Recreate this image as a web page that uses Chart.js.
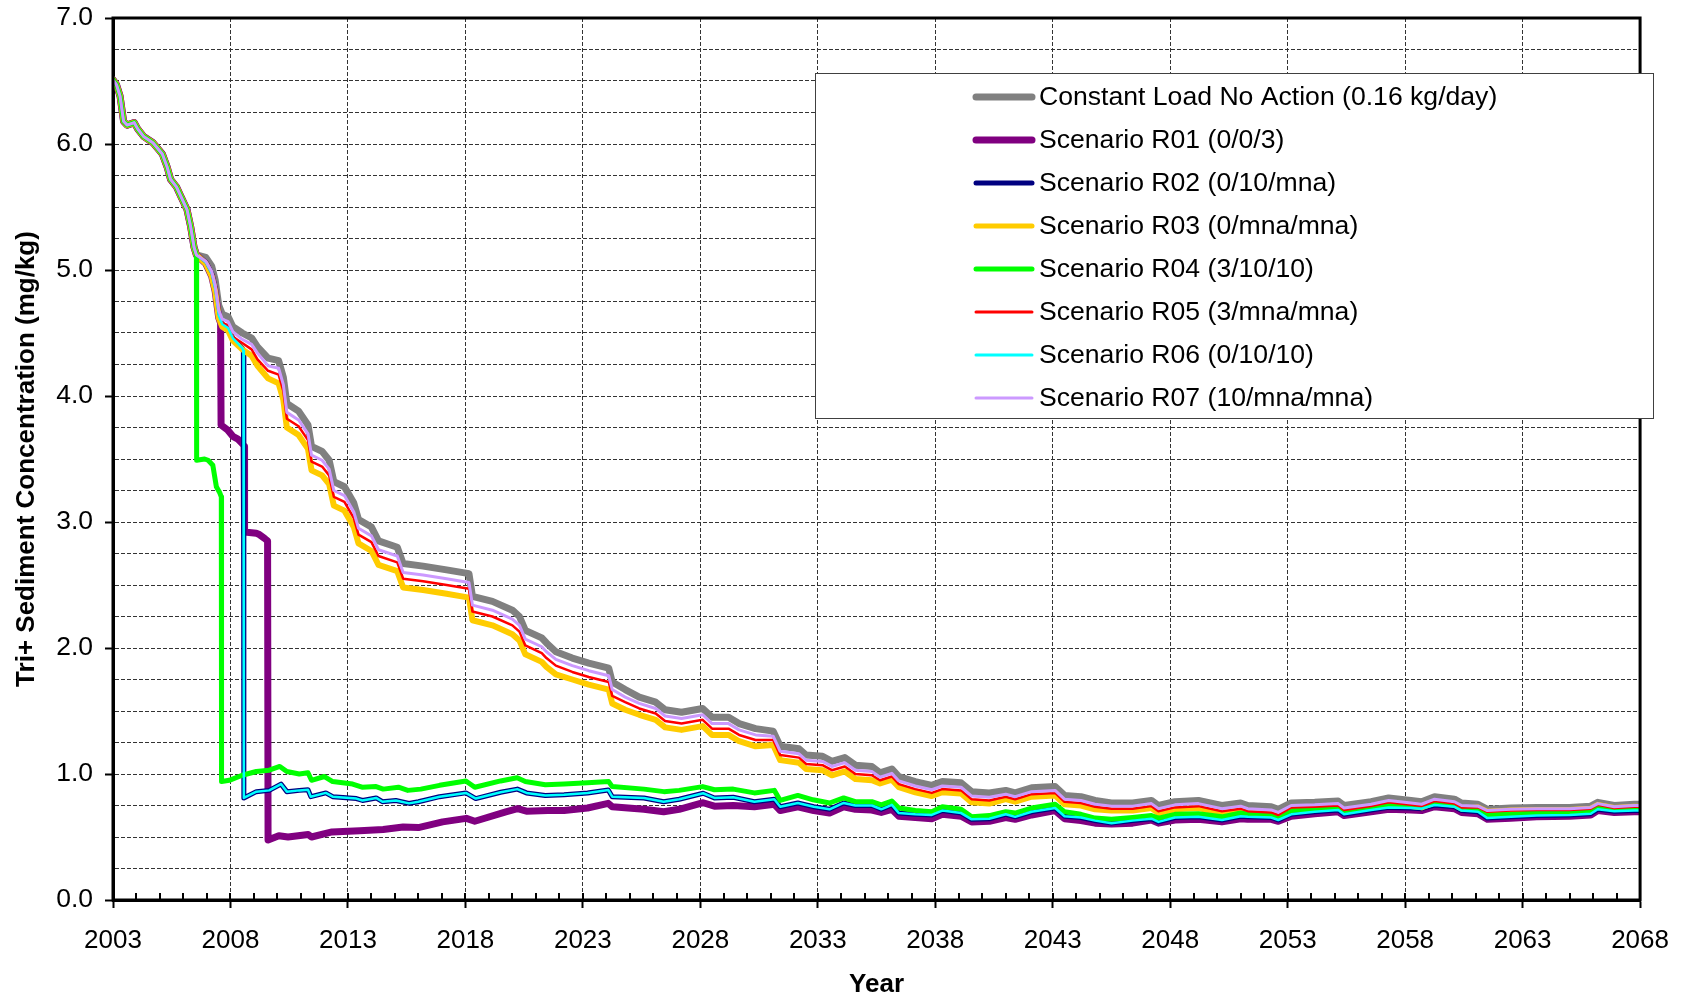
<!DOCTYPE html>
<html>
<head>
<meta charset="utf-8">
<title>Tri+ Sediment Concentration</title>
<script src="https://cdn.jsdelivr.net/npm/chart.js@4.4.1/dist/chart.umd.min.js"></script>
<style>
  html, body { margin: 0; padding: 0; background: #fff; }
  #wrap { width: 1686px; height: 1000px; }
</style>
</head>
<body>
<div id="wrap"><canvas id="chart" width="1686" height="1000"></canvas></div>
<script>
// values (year, mg/kg)
const yearTicks = [2003, 2008, 2013, 2018, 2023, 2028, 2033, 2038, 2043, 2048, 2053, 2058, 2063, 2068];

// all scenarios share the same curve until mid 2006
const yearsEarly = [2003.00, 2003.15, 2003.30, 2003.45, 2003.60, 2003.90, 2004.05, 2004.30, 2004.70, 2005.10,
  2005.30, 2005.45, 2005.70, 2005.90, 2006.15, 2006.30, 2006.45, 2006.55];
const concEarly = [6.51, 6.47, 6.38, 6.18, 6.15, 6.17, 6.12, 6.06, 6.01, 5.92,
  5.82, 5.72, 5.66, 5.58, 5.48, 5.35, 5.18, 5.12];

// no action / mna group
const yearsUpper = [2006.95, 2007.20, 2007.35, 2007.50, 2007.65, 2007.90, 2008.10, 2008.50, 2008.90, 2009.15,
  2009.60, 2010.05, 2010.25, 2010.40, 2010.90, 2011.30, 2011.45, 2011.90, 2012.20, 2012.40,
  2012.85, 2013.25, 2013.45, 2014.00, 2014.30, 2015.10, 2015.35, 2016.20, 2017.20, 2018.15,
  2018.30, 2019.15, 2020.00, 2020.30, 2020.55, 2021.25, 2021.45, 2021.85, 2022.55, 2023.25,
  2024.10, 2024.25, 2024.80, 2025.40, 2026.10, 2026.50, 2027.20, 2028.10, 2028.50, 2029.20,
  2029.65, 2030.35, 2031.10, 2031.40, 2032.20, 2032.50, 2033.20, 2033.60, 2034.15, 2034.60,
  2035.30, 2035.65, 2036.15, 2036.45, 2037.15, 2037.85, 2038.30, 2039.10, 2039.55, 2040.30,
  2041.00, 2041.40, 2042.10, 2043.10, 2043.50, 2044.20, 2044.80, 2045.50, 2046.40, 2047.20,
  2047.50, 2048.20, 2049.20, 2050.20, 2051.00, 2051.30, 2052.30, 2052.60, 2053.15, 2054.15,
  2055.15, 2055.40, 2056.55, 2057.30, 2058.25, 2058.70, 2059.25, 2060.10, 2060.40, 2061.10,
  2061.50, 2062.50, 2063.60, 2065.00, 2065.90, 2066.20, 2066.90, 2067.75, 2068.00];
const noActionLate = [5.10, 5.03, 4.92, 4.72, 4.65, 4.63, 4.55, 4.50, 4.46, 4.39,
  4.30, 4.28, 4.15, 3.94, 3.88, 3.77, 3.60, 3.56, 3.49, 3.32,
  3.28, 3.15, 3.02, 2.96, 2.85, 2.80, 2.67, 2.65, 2.62, 2.59,
  2.41, 2.37, 2.30, 2.25, 2.14, 2.08, 2.04, 1.97, 1.92, 1.88,
  1.84, 1.73, 1.67, 1.61, 1.57, 1.51, 1.49, 1.52, 1.45, 1.45,
  1.40, 1.36, 1.34, 1.22, 1.20, 1.15, 1.14, 1.10, 1.13, 1.07,
  1.06, 1.01, 1.04, 0.98, 0.94, 0.91, 0.94, 0.93, 0.86, 0.85,
  0.87, 0.85, 0.89, 0.90, 0.83, 0.82, 0.79, 0.77, 0.77, 0.79,
  0.75, 0.78, 0.79, 0.75, 0.77, 0.75, 0.74, 0.72, 0.77, 0.775,
  0.785, 0.75, 0.78, 0.81, 0.79, 0.78, 0.82, 0.80, 0.77, 0.76,
  0.72, 0.73, 0.735, 0.735, 0.745, 0.775, 0.75, 0.76, 0.76];
const r07Late = [5.07, 4.99, 4.88, 4.68, 4.61, 4.59, 4.51, 4.45, 4.41, 4.34,
  4.24, 4.22, 4.09, 3.87, 3.81, 3.70, 3.53, 3.49, 3.42, 3.25,
  3.21, 3.08, 2.95, 2.89, 2.78, 2.73, 2.60, 2.58, 2.55, 2.52,
  2.34, 2.30, 2.23, 2.18, 2.07, 2.01, 1.97, 1.91, 1.86, 1.82,
  1.78, 1.67, 1.61, 1.56, 1.52, 1.46, 1.44, 1.47, 1.40, 1.40,
  1.35, 1.31, 1.30, 1.18, 1.16, 1.11, 1.10, 1.06, 1.09, 1.03,
  1.02, 0.975, 1.005, 0.945, 0.905, 0.875, 0.905, 0.895, 0.825, 0.815,
  0.84, 0.82, 0.86, 0.87, 0.80, 0.79, 0.76, 0.745, 0.745, 0.765,
  0.725, 0.755, 0.765, 0.725, 0.745, 0.725, 0.715, 0.695, 0.75, 0.755,
  0.765, 0.73, 0.76, 0.79, 0.77, 0.76, 0.80, 0.78, 0.75, 0.745,
  0.71, 0.72, 0.725, 0.725, 0.735, 0.765, 0.74, 0.75, 0.75];
const r05Late = [5.06, 4.97, 4.86, 4.65, 4.58, 4.56, 4.47, 4.42, 4.37, 4.29,
  4.20, 4.17, 4.04, 3.82, 3.76, 3.65, 3.48, 3.44, 3.37, 3.20,
  3.16, 3.03, 2.90, 2.84, 2.73, 2.68, 2.55, 2.53, 2.50, 2.47,
  2.29, 2.25, 2.18, 2.13, 2.02, 1.96, 1.92, 1.86, 1.81, 1.77,
  1.73, 1.62, 1.57, 1.52, 1.48, 1.42, 1.40, 1.43, 1.36, 1.36,
  1.31, 1.27, 1.27, 1.15, 1.13, 1.08, 1.07, 1.03, 1.06, 1.00,
  0.99, 0.95, 0.98, 0.92, 0.88, 0.85, 0.88, 0.87, 0.80, 0.79,
  0.82, 0.80, 0.84, 0.85, 0.78, 0.77, 0.74, 0.725, 0.725, 0.745,
  0.705, 0.735, 0.745, 0.705, 0.725, 0.705, 0.695, 0.675, 0.735, 0.74,
  0.75, 0.715, 0.745, 0.775, 0.755, 0.745, 0.785, 0.765, 0.735, 0.735,
  0.70, 0.71, 0.715, 0.715, 0.725, 0.755, 0.73, 0.74, 0.74];
const r03Late = [5.05, 4.95, 4.83, 4.62, 4.55, 4.52, 4.44, 4.37, 4.32, 4.24,
  4.14, 4.10, 3.97, 3.75, 3.69, 3.58, 3.41, 3.37, 3.30, 3.13,
  3.09, 2.96, 2.83, 2.77, 2.66, 2.61, 2.48, 2.46, 2.43, 2.40,
  2.22, 2.18, 2.11, 2.06, 1.95, 1.89, 1.85, 1.79, 1.75, 1.71,
  1.67, 1.56, 1.51, 1.47, 1.43, 1.37, 1.35, 1.38, 1.31, 1.31,
  1.26, 1.22, 1.23, 1.11, 1.09, 1.04, 1.03, 0.99, 1.02, 0.96,
  0.95, 0.925, 0.955, 0.895, 0.855, 0.825, 0.855, 0.845, 0.775, 0.765,
  0.80, 0.78, 0.82, 0.83, 0.76, 0.75, 0.72, 0.71, 0.71, 0.73,
  0.69, 0.72, 0.73, 0.69, 0.71, 0.69, 0.68, 0.66, 0.725, 0.73,
  0.74, 0.705, 0.735, 0.765, 0.745, 0.735, 0.775, 0.755, 0.725, 0.735,
  0.70, 0.71, 0.715, 0.715, 0.725, 0.755, 0.73, 0.74, 0.74];

// R01 (0/0/3)
const r01Years = [2006.95, 2007.20, 2007.35, 2007.50, 2007.58, 2007.60, 2007.88, 2008.10, 2008.30, 2008.52,
  2008.58, 2008.60, 2009.10, 2009.23, 2009.45, 2009.58, 2009.60, 2010.06, 2010.45, 2011.31,
  2011.45, 2012.32, 2013.50, 2014.50, 2015.35, 2016.00, 2017.03, 2018.04, 2018.40, 2019.72,
  2020.22, 2020.60, 2021.50, 2022.20, 2023.20, 2024.08, 2024.25, 2025.60, 2026.44, 2027.10,
  2028.12, 2028.60, 2029.40, 2030.30, 2031.15, 2031.40, 2032.15, 2032.83, 2033.50, 2034.10,
  2034.60, 2035.30, 2035.70, 2036.15, 2036.45, 2037.15, 2037.85, 2038.30, 2039.10, 2039.55,
  2040.30, 2041.00, 2041.40, 2042.10, 2043.10, 2043.50, 2044.20, 2044.80, 2045.50, 2046.40,
  2047.20, 2047.50, 2048.20, 2049.20, 2050.20, 2051.00, 2051.30, 2052.30, 2052.60, 2053.15,
  2054.15, 2055.15, 2055.40, 2056.55, 2057.30, 2058.25, 2058.70, 2059.25, 2060.10, 2060.40,
  2061.10, 2061.50, 2062.50, 2063.60, 2065.00, 2065.90, 2066.20, 2066.90, 2067.75, 2068.00];
const r01Late = [5.05, 4.95, 4.83, 4.62, 4.58, 3.77, 3.73, 3.68, 3.66, 3.62,
  3.60, 2.92, 2.91, 2.90, 2.87, 2.85, 0.476, 0.51, 0.50, 0.52,
  0.50, 0.54, 0.55, 0.56, 0.58, 0.575, 0.62, 0.648, 0.625, 0.70,
  0.726, 0.705, 0.71, 0.71, 0.73, 0.767, 0.74, 0.72, 0.70, 0.72,
  0.772, 0.745, 0.75, 0.74, 0.76, 0.71, 0.74, 0.71, 0.69, 0.74,
  0.72, 0.714, 0.695, 0.72, 0.665, 0.655, 0.645, 0.68, 0.665, 0.62,
  0.625, 0.655, 0.64, 0.675, 0.71, 0.645, 0.63, 0.61, 0.603, 0.61,
  0.635, 0.61, 0.635, 0.64, 0.62, 0.645, 0.64, 0.64, 0.625, 0.665,
  0.685, 0.70, 0.67, 0.70, 0.72, 0.715, 0.71, 0.74, 0.725, 0.695,
  0.685, 0.64, 0.648, 0.66, 0.665, 0.675, 0.71, 0.695, 0.70, 0.70];

// R02 (0/10/mna) and R06 (0/10/10) lie on top of each other
const r02r06Years = [2006.95, 2007.20, 2007.35, 2007.50, 2007.65, 2007.90, 2008.10, 2008.50, 2008.55, 2008.57,
  2009.10, 2009.65, 2010.15, 2010.40, 2010.93, 2011.30, 2011.42, 2012.06, 2012.35, 2013.36,
  2013.62, 2014.20, 2014.47, 2015.04, 2015.60, 2016.00, 2016.90, 2018.02, 2018.44, 2019.50,
  2020.21, 2020.60, 2021.40, 2022.20, 2023.20, 2024.08, 2024.25, 2025.60, 2026.44, 2027.10,
  2028.12, 2028.60, 2029.40, 2030.30, 2031.15, 2031.40, 2032.15, 2032.83, 2033.50, 2034.10,
  2034.60, 2035.30, 2035.70, 2036.15, 2036.45, 2037.15, 2037.85, 2038.30, 2039.10, 2039.55,
  2040.30, 2041.00, 2041.40, 2042.10, 2043.10, 2043.50, 2044.20, 2044.80, 2045.50, 2046.40,
  2047.20, 2047.50, 2048.20, 2049.20, 2050.20, 2051.00, 2051.30, 2052.30, 2052.60, 2053.15,
  2054.15, 2055.15, 2055.40, 2056.55, 2057.30, 2058.25, 2058.70, 2059.25, 2060.10, 2060.40,
  2061.10, 2061.50, 2062.50, 2063.60, 2065.00, 2065.90, 2066.20, 2066.90, 2067.75, 2068.00];
const r02r06Late = [5.06, 4.97, 4.85, 4.64, 4.57, 4.54, 4.46, 4.38, 4.36, 0.81,
  0.86, 0.87, 0.92, 0.86, 0.87, 0.875, 0.82, 0.85, 0.82, 0.805,
  0.79, 0.81, 0.78, 0.79, 0.767, 0.78, 0.82, 0.85, 0.805, 0.855,
  0.88, 0.85, 0.83, 0.835, 0.85, 0.873, 0.82, 0.81, 0.78, 0.80,
  0.847, 0.81, 0.815, 0.78, 0.80, 0.74, 0.77, 0.74, 0.72, 0.77,
  0.75, 0.75, 0.72, 0.755, 0.69, 0.68, 0.675, 0.71, 0.69, 0.64,
  0.645, 0.68, 0.66, 0.70, 0.73, 0.665, 0.655, 0.63, 0.61, 0.63,
  0.645, 0.62, 0.655, 0.66, 0.635, 0.665, 0.66, 0.655, 0.635, 0.68,
  0.70, 0.714, 0.68, 0.715, 0.735, 0.73, 0.725, 0.754, 0.74, 0.71,
  0.70, 0.65, 0.66, 0.67, 0.675, 0.685, 0.72, 0.705, 0.71, 0.71];

// R04 (3/10/10)
const r04Years = [2006.56, 2006.90, 2007.05, 2007.25, 2007.40, 2007.55, 2007.61, 2007.62, 2007.95, 2008.50,
  2009.10, 2009.65, 2010.10, 2010.40, 2010.93, 2011.30, 2011.45, 2012.00, 2012.35, 2013.20,
  2013.60, 2014.20, 2014.50, 2015.15, 2015.55, 2016.10, 2016.90, 2018.02, 2018.40, 2019.50,
  2020.20, 2020.55, 2021.40, 2022.20, 2023.20, 2024.10, 2024.25, 2025.60, 2026.45, 2027.10,
  2028.10, 2028.60, 2029.40, 2030.30, 2031.15, 2031.40, 2032.15, 2032.80, 2033.50, 2034.10,
  2034.60, 2035.30, 2035.70, 2036.15, 2036.45, 2037.15, 2037.85, 2038.30, 2039.10, 2039.55,
  2040.30, 2041.00, 2041.40, 2042.10, 2043.10, 2043.50, 2044.20, 2044.80, 2045.50, 2046.40,
  2047.20, 2047.50, 2048.20, 2049.20, 2050.20, 2051.00, 2051.30, 2052.30, 2052.60, 2053.15,
  2054.15, 2055.15, 2055.40, 2056.55, 2057.30, 2058.25, 2058.70, 2059.25, 2060.10, 2060.40,
  2061.10, 2061.50, 2062.50, 2063.60, 2065.00, 2065.90, 2066.20, 2066.90, 2067.75, 2068.00];
const r04Late = [3.49, 3.50, 3.49, 3.45, 3.28, 3.23, 3.20, 0.94, 0.95, 0.99,
  1.02, 1.03, 1.06, 1.02, 1.00, 1.01, 0.95, 0.98, 0.94, 0.92,
  0.895, 0.90, 0.88, 0.895, 0.87, 0.88, 0.91, 0.945, 0.895, 0.945,
  0.97, 0.94, 0.915, 0.92, 0.93, 0.94, 0.90, 0.88, 0.86, 0.87,
  0.90, 0.875, 0.88, 0.85, 0.87, 0.79, 0.83, 0.795, 0.77, 0.81,
  0.78, 0.78, 0.755, 0.785, 0.73, 0.71, 0.70, 0.74, 0.72, 0.66,
  0.67, 0.70, 0.69, 0.73, 0.76, 0.70, 0.68, 0.65, 0.64, 0.655,
  0.67, 0.65, 0.68, 0.685, 0.66, 0.69, 0.68, 0.68, 0.66, 0.71,
  0.72, 0.735, 0.70, 0.73, 0.755, 0.745, 0.74, 0.77, 0.755, 0.73,
  0.72, 0.675, 0.68, 0.69, 0.69, 0.70, 0.74, 0.725, 0.73, 0.73];

const FONT = '"Liberation Sans", Arial, sans-serif';

function pts(xs, ys) {
  return xs.map((x, i) => ({ x: x, y: ys[i] }));
}
function series(lateYears, lateConc) {
  return pts(yearsEarly.concat(lateYears), concEarly.concat(lateConc));
}

// drawn bottom to top: later series lie over earlier ones
const datasets = [
  { label: 'Constant Load No Action (0.16 kg/day)', data: series(yearsUpper, noActionLate), borderColor: '#808080', borderWidth: 7, order: 7 },
  { label: 'Scenario R01 (0/0/3)', data: series(r01Years, r01Late), borderColor: '#800080', borderWidth: 7, order: 6 },
  { label: 'Scenario R02 (0/10/mna)', data: series(r02r06Years, r02r06Late), borderColor: '#000080', borderWidth: 5, order: 5 },
  { label: 'Scenario R03 (0/mna/mna)', data: series(yearsUpper, r03Late), borderColor: '#FFCC00', borderWidth: 6, order: 4 },
  { label: 'Scenario R04 (3/10/10)', data: series(r04Years, r04Late), borderColor: '#00FF00', borderWidth: 5, order: 3 },
  { label: 'Scenario R05 (3/mna/mna)', data: series(yearsUpper, r05Late), borderColor: '#FF0000', borderWidth: 2.5, order: 2 },
  { label: 'Scenario R06 (0/10/10)', data: series(r02r06Years, r02r06Late), borderColor: '#00FFFF', borderWidth: 2.5, order: 1 },
  { label: 'Scenario R07 (10/mna/mna)', data: series(yearsUpper, r07Late), borderColor: '#CC99FF', borderWidth: 3, order: 0 }
];
const legendWidths = [7, 7, 5, 5, 5, 3, 3, 3];

// inner year ticks on the x axis and the closed plot frame
const frameTicks = {
  id: 'frameTicks',
  afterDatasetsDraw(chart) {
    const { ctx, chartArea: a, scales: { x } } = chart;
    ctx.save();
    ctx.strokeStyle = '#000';
    ctx.lineWidth = 2;
    ctx.beginPath();
    for (let yr = 2004; yr < 2068; yr++) {
      const px = Math.round(x.getPixelForValue(yr));
      ctx.moveTo(px, a.bottom);
      ctx.lineTo(px, a.bottom - 7);
    }
    ctx.stroke();
    ctx.lineWidth = 3;
    ctx.strokeRect(a.left, a.top, a.right - a.left, a.bottom - a.top);
    ctx.restore();
  }
};

// boxed legend in the upper right, as in the figure
const boxLegend = {
  id: 'boxLegend',
  afterDraw(chart) {
    const ctx = chart.ctx;
    const box = { x: 815, y: 73, w: 838, h: 345 };
    ctx.save();
    ctx.fillStyle = '#fff';
    ctx.fillRect(box.x, box.y, box.w, box.h);
    ctx.strokeStyle = '#404040';
    ctx.lineWidth = 1;
    ctx.strokeRect(box.x + 0.5, box.y + 0.5, box.w, box.h);
    ctx.font = '26.6px ' + FONT;
    ctx.textBaseline = 'middle';
    ctx.textAlign = 'left';
    chart.data.datasets.forEach((ds, i) => {
      const y = 97 + i * 43;
      ctx.strokeStyle = ds.borderColor;
      ctx.lineWidth = legendWidths[i];
      ctx.lineCap = 'round';
      ctx.beginPath();
      ctx.moveTo(976, y);
      ctx.lineTo(1032, y);
      ctx.stroke();
      ctx.fillStyle = '#000';
      ctx.fillText(ds.label, 1039, y + 1);
    });
    ctx.restore();
  }
};

Chart.defaults.font.family = FONT;
Chart.defaults.font.size = 26;
Chart.defaults.color = '#000';

new Chart(document.getElementById('chart'), {
  type: 'line',
  data: { datasets: datasets },
  options: {
    responsive: false,
    animation: false,
    layout: { padding: { left: 0, top: 18, right: 44, bottom: 0 } },
    elements: {
      point: { radius: 0 },
      line: { tension: 0, fill: false, borderJoinStyle: 'round', borderCapStyle: 'round' }
    },
    plugins: { legend: { display: false }, tooltip: { enabled: false } },
    scales: {
      x: {
        type: 'linear',
        min: 2003,
        max: 2068,
        afterBuildTicks: (scale) => { scale.ticks = yearTicks.map(v => ({ value: v })); },
        afterFit: (scale) => { scale.height = 100; },
        ticks: { autoSkip: false, maxRotation: 0, padding: 17, callback: (v) => String(v) },
        grid: { color: '#333', lineWidth: 1, tickLength: 8, tickColor: '#000', tickWidth: 2 },
        border: { color: '#000', width: 3, dash: [4, 2] },
        title: { display: true, text: 'Year', font: { weight: 'bold', size: 26 }, padding: { top: 0, bottom: 0 } }
      },
      y: {
        min: 0,
        max: 7,
        afterFit: (scale) => {
          scale.width = 113;
          scale.paddingTop = 0;
          scale.paddingBottom = 0;
        },
        ticks: {
          stepSize: 0.25,
          autoSkip: false,
          padding: 12,
          font: { size: 26.5 },
          callback: (v) => Number.isInteger(v) ? v.toFixed(1) : ''
        },
        grid: {
          color: '#333',
          lineWidth: 1,
          tickLength: 8,
          tickWidth: 2,
          tickColor: (c) => (c.tick && Number.isInteger(c.tick.value)) ? '#000' : 'rgba(0,0,0,0)'
        },
        border: { color: '#000', width: 3, dash: [4, 2] },
        title: { display: true, text: 'Tri+ Sediment Concentration (mg/kg)', font: { weight: 'bold', size: 26 }, padding: { top: 11, bottom: 0 } }
      }
    }
  },
  plugins: [frameTicks, boxLegend]
});
</script>
</body>
</html>
